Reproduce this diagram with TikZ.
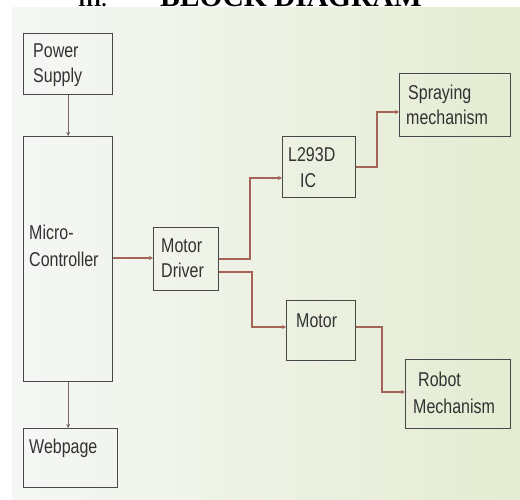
\documentclass[tikz,border=0pt]{standalone}
\usepackage{fontspec}
\setmainfont{Liberation Sans}[FakeStretch=0.8]
\newfontfamily\titlefont{Liberation Serif}
\usetikzlibrary{arrows.meta}
\definecolor{boxline}{RGB}{72,72,72}
\definecolor{txt}{RGB}{50,50,50}
\definecolor{redline}{RGB}{165,100,88}
\definecolor{grayline}{RGB}{115,100,96}
\definecolor{bgleft}{RGB}{245,247,245}
\definecolor{bgright}{RGB}{228,236,210}
\tikzset{
  blk/.style={draw=boxline, line width=1.4pt, rectangle, inner sep=0pt, anchor=north west},
  lbl/.style={anchor=base west, inner sep=0pt, text=txt, font=\fontsize{20}{25}\selectfont},
  conn/.style={draw=redline, line width=1.1pt, -{Stealth[length=4pt,width=4pt]}},
  gconn/.style={draw=grayline, line width=1.1pt, -{Stealth[length=4pt,width=4pt]}},
}
\begin{document}
\begin{tikzpicture}[x=1pt,y=-1pt]
\useasboundingbox (0,0) rectangle (520,500);
\clip (0,0) rectangle (520,500);
\fill[white] (0,0) rectangle (520,500);
\shade[left color=bgleft, right color=bgright] (12,8) rectangle (520,500);
% title (cut off at top, as in the reference)
\node[anchor=base west, inner sep=0pt, font=\titlefont\bfseries\fontsize{20}{24}\selectfont] (tnum) at (78,7) {III.};
\node[anchor=base west, inner sep=0pt, font=\titlefont\bfseries\fontsize{29.5}{34}\selectfont] (ttl) at (160,7) {BLOCK DIAGRAM};
% boxes
\node[blk, minimum width=89pt, minimum height=61pt] (ps) at (23,33) {};
\node[blk, minimum width=89pt, minimum height=245pt] (mc) at (23,136) {};
\node[blk, minimum width=94pt, minimum height=59pt] (wp) at (23,428) {};
\node[blk, minimum width=65pt, minimum height=63pt] (md) at (153,227) {};
\node[blk, minimum width=73pt, minimum height=61pt] (ic) at (282,136) {};
\node[blk, minimum width=111pt, minimum height=63pt] (sp) at (399,73) {};
\node[blk, minimum width=69pt, minimum height=60pt] (mo) at (286,300) {};
\node[blk, minimum width=105pt, minimum height=69pt] (rb) at (405,359) {};
% labels
\node[lbl] (tps1) at (33,58) {Power};
\node[lbl] (tps2) at (33,83) {Supply};
\node[lbl] (tmc1) at (29,240) {Micro-};
\node[lbl] (tmc2) at (29,266) {Controller};
\node[lbl] (twp) at (29,453) {Webpage};
\node[lbl] (tmd1) at (161,253) {Motor};
\node[lbl] (tmd2) at (161,277) {Driver};
\node[lbl] (tic1) at (288,162) {L293D};
\node[lbl] (tic2) at (300,188) {IC};
\node[lbl] (tsp1) at (408,100) {Spraying};
\node[lbl] (tsp2) at (406,125) {mechanism};
\node[lbl] (tmo) at (296,327) {Motor};
\node[lbl] (trb1) at (418,386) {Robot};
\node[lbl] (trb2) at (413,413) {Mechanism};
% connectors
\draw[gconn] (ps.south) -- (mc.north);
\draw[gconn] (mc.south) -- (wp.north -| mc.south);
\draw[conn] (mc.east |- 0,258) -- (md.west |- 0,258);
\draw[conn] (md.east |- 0,259) -- (250,259) -- (250,178) -- (ic.west |- 0,178);
\draw[conn] (md.east |- 0,272) -- (252,272) -- (252,327) -- (mo.west |- 0,327);
\draw[conn] (ic.east |- 0,167) -- (377,167) -- (377,112) -- (sp.west |- 0,112);
\draw[conn] (mo.east |- 0,327) -- (382,327) -- (382,392) -- (rb.west |- 0,392);
\end{tikzpicture}
\end{document}
